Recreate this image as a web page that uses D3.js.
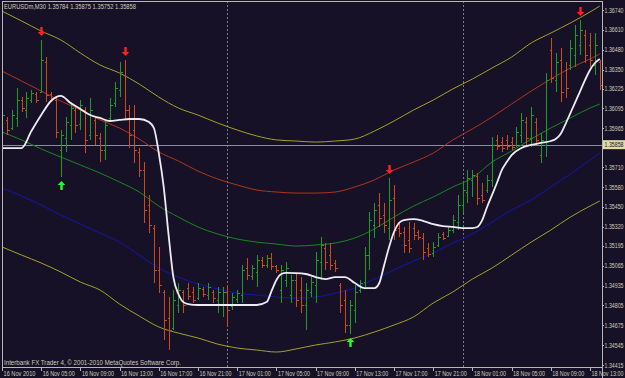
<!DOCTYPE html>
<html>
<head>
<meta charset="utf-8">
<script src="https://cdn.jsdelivr.net/npm/d3@7"></script>
<style>
  html, body { margin: 0; padding: 0; background: #171127; overflow: hidden; }
  svg { display: block; }
  text { font-family: "Liberation Sans", Arial, sans-serif; font-size: 7px; fill: #cfcdb5; }
</style>
</head>
<body>
<svg id="svg"></svg>
<script>
// ---- data (EURUSDm, M30) ----
const barHigh = [
  1.36105,1.36039,1.36085,1.36229,1.36170,1.36203,1.36216,1.36203,1.36544,1.36432,
  1.36203,1.36170,1.35954,1.36039,1.36137,1.36105,1.36150,1.36105,1.36164,1.36039,
  1.35934,1.36020,1.36164,1.36268,1.36399,1.36413,1.36118,1.36118,1.35836,1.35744,
  1.35528,1.35332,1.35188,1.34906,1.34860,1.34906,1.34952,1.34906,1.34952,1.34926,
  1.34952,1.34926,1.34952,1.34906,1.34926,1.34926,1.34939,1.34886,1.34906,1.35070,
  1.35116,1.35070,1.35135,1.35122,1.35135,1.35148,1.35070,1.35070,1.35089,1.35004,
  1.35017,1.34991,1.34952,1.34991,1.35155,1.35253,1.35214,1.35214,1.35103,1.34952,
  1.34906,1.34840,1.34939,1.34971,1.35188,1.35417,1.35476,1.35541,1.35476,1.35640,
  1.35594,1.35351,1.35319,1.35351,1.35345,1.35299,1.35279,1.35214,1.35220,1.35279,
  1.35286,1.35319,1.35397,1.35528,1.35607,1.35692,1.35692,1.35672,1.35607,1.35659,
  1.35908,1.35921,1.35908,1.35921,1.35908,1.35974,1.36065,1.36039,1.36105,1.36033,
  1.35934,1.36327,1.36557,1.36458,1.36491,1.36399,1.36544,1.36642,1.36675,1.36609,
  1.36589,1.36589,1.36413
];
const barLow = [
  1.35869,1.35921,1.35954,1.35974,1.36072,1.36033,1.36131,1.36131,1.36196,1.36137,
  1.36150,1.35902,1.35646,1.35810,1.35889,1.35934,1.35954,1.35803,1.35889,1.35856,
  1.35744,1.35758,1.36020,1.36105,1.36170,1.36020,1.35836,1.35738,1.35646,1.35345,
  1.35279,1.34952,1.34886,1.34579,1.34513,1.34644,1.34755,1.34755,1.34840,1.34821,
  1.34840,1.34860,1.34840,1.34821,1.34755,1.34729,1.34664,1.34775,1.34821,1.34821,
  1.34971,1.34971,1.34926,1.35050,1.35050,1.35037,1.35017,1.34821,1.34926,1.34821,
  1.34795,1.34755,1.34644,1.34860,1.34821,1.34971,1.35037,1.35037,1.35024,1.34755,
  1.34624,1.34618,1.34690,1.34886,1.34926,1.35037,1.35247,1.35319,1.35279,1.35234,
  1.35234,1.35253,1.35148,1.35148,1.35234,1.35234,1.35103,1.35122,1.35122,1.35188,
  1.35234,1.35253,1.35279,1.35299,1.35410,1.35476,1.35515,1.35463,1.35476,1.35541,
  1.35581,1.35823,1.35810,1.35823,1.35823,1.35843,1.35869,1.35843,1.35843,1.35856,
  1.35738,1.35777,1.36262,1.36203,1.36137,1.36164,1.36347,1.36367,1.36445,1.36393,
  1.36367,1.36314,1.36216
];
const barOpen = [
  1.35921,1.36020,1.35967,1.36033,1.36150,1.36085,1.36150,1.36190,1.36203,1.36399,
  1.36190,1.36150,1.35823,1.35902,1.35987,1.36085,1.35993,1.36085,1.35921,1.36020,
  1.35902,1.35823,1.36033,1.36131,1.36216,1.36314,1.36085,1.35954,1.35810,1.35692,
  1.35463,1.35312,1.35037,1.34893,1.34723,1.34657,1.34808,1.34893,1.34919,1.34893,
  1.34853,1.34913,1.34873,1.34893,1.34840,1.34808,1.34893,1.34801,1.34847,1.34873,
  1.35050,1.34998,1.35024,1.35103,1.35070,1.35116,1.35063,1.34906,1.34971,1.34873,
  1.34971,1.34906,1.34808,1.34893,1.34939,1.35089,1.35181,1.35135,1.35083,1.34939,
  1.34840,1.34677,1.34775,1.34906,1.34958,1.35135,1.35332,1.35463,1.35397,1.35312,
  1.35509,1.35312,1.35286,1.35234,1.35312,1.35286,1.35247,1.35181,1.35148,1.35201,
  1.35273,1.35260,1.35299,1.35351,1.35463,1.35548,1.35626,1.35653,1.35528,1.35561,
  1.35626,1.35889,1.35875,1.35889,1.35875,1.35856,1.35921,1.36006,1.35902,1.36006,
  1.35790,1.35856,1.36478,1.36281,1.36413,1.36347,1.36380,1.36445,1.36511,1.36576,
  1.36511,1.36380,1.36399
];
const barClose = [
  1.36052,1.35954,1.36052,1.36150,1.36098,1.36164,1.36196,1.36150,1.36413,1.36183,
  1.36164,1.35941,1.35921,1.36006,1.36098,1.35987,1.36118,1.35889,1.36085,1.35921,
  1.35823,1.35987,1.36118,1.36229,1.36334,1.36085,1.35921,1.35823,1.35692,1.35430,
  1.35332,1.35037,1.34939,1.34710,1.34644,1.34840,1.34906,1.34808,1.34867,1.34840,
  1.34919,1.34880,1.34926,1.34853,1.34893,1.34893,1.34775,1.34860,1.34886,1.35037,
  1.35004,1.35050,1.35103,1.35070,1.35116,1.35063,1.35037,1.35037,1.35050,1.34971,
  1.34840,1.34808,1.34906,1.34958,1.35103,1.35201,1.35089,1.35070,1.35050,1.34808,
  1.34677,1.34808,1.34893,1.34952,1.35135,1.35364,1.35430,1.35378,1.35332,1.35496,
  1.35299,1.35279,1.35201,1.35181,1.35266,1.35253,1.35155,1.35142,1.35188,1.35253,
  1.35247,1.35299,1.35364,1.35463,1.35561,1.35640,1.35659,1.35509,1.35496,1.35626,
  1.35856,1.35849,1.35836,1.35849,1.35843,1.35941,1.36020,1.35902,1.36052,1.35889,
  1.35889,1.36281,1.36295,1.36399,1.36203,1.36229,1.36491,1.36576,1.36609,1.36445,
  1.36413,1.36511,1.36249
];

// indicator lines, sampled every few bars
const bandIdx = [0,4,8,12,16,20,24,28,32,36,40,44,48,52,56,60,64,68,72,76,80,84,88,92,96,100,104,108,112,116,120,122];
const upperBand = [1.36733,1.36668,1.36602,1.36544,1.36458,1.36380,1.36327,1.36255,1.36170,1.36098,1.36052,1.36000,1.35954,1.35915,1.35889,1.35882,
                   1.35875,1.35882,1.35895,1.35947,1.36013,1.36085,1.36150,1.36223,1.36288,1.36360,1.36432,1.36524,1.36589,1.36655,1.36727,1.36766];
const redLine   = [1.36340,1.36275,1.36209,1.36144,1.36085,1.36020,1.35967,1.35895,1.35810,1.35751,1.35685,1.35633,1.35594,1.35561,1.35548,1.35541,
                   1.35541,1.35548,1.35581,1.35627,1.35692,1.35744,1.35803,1.35889,1.35961,1.36039,1.36124,1.36209,1.36288,1.36360,1.36419,1.36452];
const greenLine = [1.35941,1.35889,1.35830,1.35777,1.35725,1.35672,1.35613,1.35548,1.35456,1.35384,1.35319,1.35273,1.35240,1.35220,1.35207,1.35194,
                   1.35201,1.35214,1.35247,1.35306,1.35384,1.35456,1.35515,1.35581,1.35640,1.35744,1.35816,1.35895,1.35967,1.36033,1.36098,1.36124];
const blueLine  = [1.35574,1.35522,1.35463,1.35397,1.35338,1.35279,1.35220,1.35135,1.35050,1.34991,1.34945,1.34913,1.34886,1.34873,1.34860,1.34853,
                   1.34860,1.34886,1.34919,1.34978,1.35037,1.35096,1.35148,1.35214,1.35273,1.35351,1.35430,1.35496,1.35581,1.35666,1.35758,1.35803];
const lowerBand = [1.35188,1.35135,1.35083,1.35024,1.34958,1.34906,1.34814,1.34736,1.34664,1.34624,1.34592,1.34552,1.34526,1.34513,1.34500,1.34520,
                   1.34546,1.34566,1.34592,1.34631,1.34677,1.34730,1.34821,1.34893,1.34978,1.35050,1.35135,1.35220,1.35299,1.35384,1.35456,1.35489];

const whiteIdx = [0,2,4,6,8,10,12,14,16,18,20,22,24,26,28,30,31,32,33,34,35,36,37,38,40,44,48,52,54,55,56,57,58,
                  60,62,64,66,68,70,72,74,76,77,78,79,80,81,82,84,86,88,90,92,94,96,97,98,99,100,101,102,103,104,
                  106,108,110,112,113,114,115,116,117,118,119,120,121,122];
const whiteLine = [1.35836,1.35836,1.35836,1.35947,1.36052,1.36144,1.36177,1.36131,1.36092,1.36052,1.36033,1.36013,1.36020,1.36026,1.36026,
                   1.36006,1.35967,1.35803,1.35581,1.35266,1.34985,1.34880,1.34827,1.34814,1.34808,1.34808,1.34808,1.34808,
                   1.34827,1.34899,1.34972,1.35011,1.35018,
                   1.35017,1.35011,1.34991,1.34978,1.34991,1.34991,1.34952,1.34919,1.34919,
                   1.34952,1.35070,1.35188,1.35286,1.35345,1.35364,
                   1.35371,1.35358,1.35338,1.35325,1.35319,1.35312,1.35312,
                   1.35319,1.35364,1.35450,1.35528,1.35607,1.35692,1.35744,1.35790,
                   1.35836,1.35856,1.35869,1.35882,
                   1.35895,1.35928,1.35993,1.36065,1.36137,1.36209,1.36282,1.36347,1.36393,1.36419];

const sellSignals = [8, 25, 79, 118];
const buySignals = [12, 71];

const timeTickIdx = [0,8,16,24,32,40,48,56,64,72,80,88,96,104,112,120];
const timeLabels = ["16 Nov 2010","16 Nov 05:00","16 Nov 09:00","16 Nov 13:00","16 Nov 17:00","16 Nov 21:00",
                    "17 Nov 01:00","17 Nov 05:00","17 Nov 09:00","17 Nov 13:00","17 Nov 17:00","17 Nov 21:00",
                    "18 Nov 01:00","18 Nov 05:00","18 Nov 09:00","18 Nov 13:00"];
const daySeparators = [46, 94];
const priceTicks = [1.36740,1.36610,1.36480,1.36350,1.36225,1.36095,1.35965,1.35840,1.35710,1.35580,
                    1.35450,1.35320,1.35195,1.35065,1.34935,1.34805,1.34675,1.34545,1.34415];
const bidPrice = 1.35858;
const headerText = "EURUSDm,M30  1.35784 1.35875 1.35752 1.35858";
const footerText = "Interbank FX Trader 4, \u00a9 2001-2010 MetaQuotes Software Corp.";

// ---- layout ----
const W = 625, H = 378;
const plot = {left: 2, right: 602, top: 1, bottom: 367};

const svg = d3.select("#svg").attr("width", W).attr("height", H);
svg.append("rect").attr("width", W).attr("height", H).attr("fill", "#171127");

const x = d3.scaleLinear().domain([0, 122]).range([2, 599.8]);
const y = d3.scaleLinear().domain([1.34415, 1.36740]).range([365, 10]);

svg.append("clipPath").attr("id", "clip")
  .append("rect")
  .attr("x", plot.left).attr("y", plot.top)
  .attr("width", plot.right - plot.left).attr("height", plot.bottom - plot.top);

const g = svg.append("g").attr("clip-path", "url(#clip)");

// day separators
g.selectAll("line.sep")
  .data(daySeparators)
  .enter().append("line")
  .attr("x1", d => Math.round(x(d)) + 0.5).attr("x2", d => Math.round(x(d)) + 0.5)
  .attr("y1", plot.top).attr("y2", plot.bottom)
  .attr("stroke", "#7a7a86").attr("stroke-dasharray", "2,2");

// bid line
g.append("line")
  .attr("x1", plot.left).attr("x2", plot.right)
  .attr("y1", Math.round(y(bidPrice)) + 0.5).attr("y2", Math.round(y(bidPrice)) + 0.5)
  .attr("stroke", "#8a8aa0");

// bands
const lineFor = (idx) => d3.line()
  .x((d, i) => x(idx[i]))
  .y(d => y(d))
  .curve(d3.curveMonotoneX);

const bands = [
  {data: upperBand, color: "#a3a322"},
  {data: lowerBand, color: "#a3a322"},
  {data: redLine, color: "#b2341a"},
  {data: greenLine, color: "#16881c"},
  {data: blueLine, color: "#1414b0"}
];
bands.forEach(b => {
  g.append("path")
    .datum(b.data)
    .attr("d", lineFor(bandIdx))
    .attr("fill", "none")
    .attr("stroke", b.color)
    .attr("stroke-width", 1);
});

// OHLC bars
const bars = barHigh.map((h, i) => ({i, h, l: barLow[i], o: barOpen[i], c: barClose[i]}));
const barColor = d => d.c >= d.o ? "#1f9b2c" : "#cc4a1c";
const bx = d => Math.round(x(d.i)) + 0.5;

const barG = g.append("g").attr("shape-rendering", "crispEdges");
barG.selectAll("line.hl")
  .data(bars).enter().append("line")
  .attr("x1", bx).attr("x2", bx)
  .attr("y1", d => y(d.h)).attr("y2", d => y(d.l))
  .attr("stroke", barColor);
barG.selectAll("line.op")
  .data(bars).enter().append("line")
  .attr("x1", d => bx(d) - 2).attr("x2", d => bx(d))
  .attr("y1", d => Math.round(y(d.o)) + 0.5).attr("y2", d => Math.round(y(d.o)) + 0.5)
  .attr("stroke", barColor);
barG.selectAll("line.cl")
  .data(bars).enter().append("line")
  .attr("x1", d => bx(d)).attr("x2", d => bx(d) + 2)
  .attr("y1", d => Math.round(y(d.c)) + 0.5).attr("y2", d => Math.round(y(d.c)) + 0.5)
  .attr("stroke", barColor);

// white smoothed line
g.append("path")
  .datum(whiteLine)
  .attr("d", lineFor(whiteIdx))
  .attr("fill", "none")
  .attr("stroke", "#ececf2")
  .attr("stroke-width", 1.8);

// signal arrows
g.selectAll("path.sell")
  .data(sellSignals).enter().append("path")
  .attr("d", i => {
    const cx = Math.round(x(i)) + 0.5, t = y(barHigh[i]) - 4;
    return `M${cx - 1.2},${t - 9} h2.4 v5 h2.6 l-3.8,4 l-3.8,-4 h2.6 z`;
  })
  .attr("fill", "#ff2020");
g.selectAll("path.buy")
  .data(buySignals).enter().append("path")
  .attr("d", i => {
    const cx = Math.round(x(i)) + 0.5, t = y(barLow[i]) + 4;
    return `M${cx - 1.2},${t + 9} h2.4 v-5 h2.6 l-3.8,-4 l-3.8,4 h2.6 z`;
  })
  .attr("fill", "#22ff22");

// frame
const frame = svg.append("g").attr("stroke", "#b8b8b0").attr("shape-rendering", "crispEdges");
frame.append("line").attr("x1", plot.left + 0.5).attr("x2", plot.left + 0.5).attr("y1", plot.top).attr("y2", plot.bottom);
frame.append("line").attr("x1", plot.left).attr("x2", plot.right).attr("y1", plot.top + 0.5).attr("y2", plot.top + 0.5);
frame.append("line").attr("x1", plot.right + 0.5).attr("x2", plot.right + 0.5).attr("y1", plot.top).attr("y2", H);
frame.append("line").attr("x1", plot.left).attr("x2", plot.right).attr("y1", plot.bottom + 0.5).attr("y2", plot.bottom + 0.5);

// price axis (labels hidden where the bid label sits, as in the terminal)
const visibleTicks = priceTicks.filter(d => Math.abs(y(d) - y(bidPrice)) > 7);
const yAxis = svg.append("g");
yAxis.selectAll("line")
  .data(priceTicks).enter().append("line")
  .attr("x1", plot.right).attr("x2", plot.right + 2)
  .attr("y1", d => Math.round(y(d)) + 0.5).attr("y2", d => Math.round(y(d)) + 0.5)
  .attr("stroke", "#b8b8b0");
yAxis.selectAll("text")
  .data(visibleTicks).enter().append("text")
  .attr("x", plot.right + 2.5)
  .attr("y", d => y(d) + 2.5)
  .attr("textLength", 19).attr("lengthAdjust", "spacingAndGlyphs")
  .text(d => d.toFixed(5));

// bid label
svg.append("rect")
  .attr("x", plot.right + 1).attr("y", y(bidPrice) - 4.5)
  .attr("width", W - plot.right - 1).attr("height", 9)
  .attr("fill", "#e2dba6");
svg.append("text")
  .attr("x", plot.right + 2.5).attr("y", y(bidPrice) + 2.5)
  .attr("textLength", 19).attr("lengthAdjust", "spacingAndGlyphs")
  .style("fill", "#171127")
  .text(bidPrice.toFixed(5));

// time axis
const xAxis = svg.append("g");
xAxis.selectAll("line")
  .data(timeTickIdx).enter().append("line")
  .attr("x1", d => Math.round(x(d)) + 0.5).attr("x2", d => Math.round(x(d)) + 0.5)
  .attr("y1", plot.bottom).attr("y2", plot.bottom + 4)
  .attr("stroke", "#b8b8b0");
xAxis.selectAll("text")
  .data(timeTickIdx).enter().append("text")
  .attr("x", d => x(d) + 1.5)
  .attr("y", 376)
  .attr("textLength", 32).attr("lengthAdjust", "spacingAndGlyphs")
  .text((d, i) => timeLabels[i]);

// header & footer
svg.append("text").attr("x", 4).attr("y", 8.5)
  .attr("textLength", 132).attr("lengthAdjust", "spacingAndGlyphs").text(headerText);
svg.append("text").attr("x", 4).attr("y", 364.5)
  .attr("textLength", 177).attr("lengthAdjust", "spacingAndGlyphs").text(footerText);
</script>
</body>
</html>
